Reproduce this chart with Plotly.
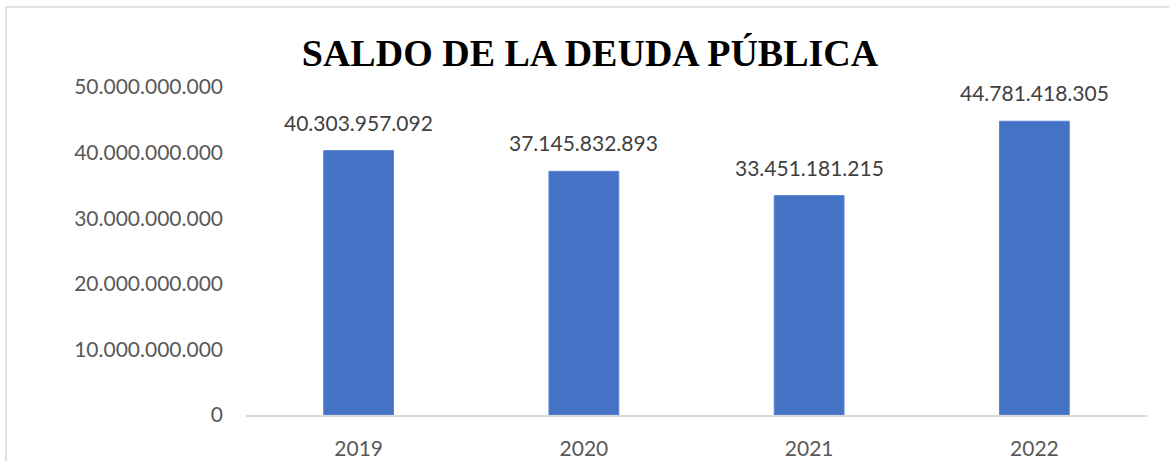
import plotly.graph_objects as go

years = ["2019", "2020", "2021", "2022"]
saldo = [40303957092, 37145832893, 33451181215, 44781418305]
y_ticks = [0, 10000000000, 20000000000, 30000000000, 40000000000, 50000000000]

W, H = 1169, 461
L, R, T, B = 246, 22, 87, 46
pw, ph = W - L - R, H - T - B

fig = go.Figure()
fig.add_trace(go.Bar(
    x=years, y=saldo, width=0.31,
    marker=dict(color="#4472C4", line=dict(color="#5B86D3", width=1)),
    hoverinfo="x+y",
))

# category index of each year on the category axis
for i, v in enumerate(saldo):
    fig.add_annotation(
        x=i, y=v, text=f"{v:,}".replace(",", "."),
        showarrow=False, yanchor="bottom", yshift=14,
        font=dict(family="Lato", size=21, color="#404040"),
    )

def px_to_paper_x(p):
    return (p - L) / pw

def px_to_paper_y(p):
    return (H - B - p) / ph

fig.add_shape(
    type="rect", xref="paper", yref="paper",
    x0=px_to_paper_x(6), x1=px_to_paper_x(1200),
    y0=px_to_paper_y(500), y1=px_to_paper_y(7),
    line=dict(color="#D9D9D9", width=1.5), fillcolor="rgba(0,0,0,0)", layer="below",
)

fig.update_layout(
    width=W, height=H,
    margin=dict(l=L, r=R, t=T, b=B, pad=0, autoexpand=False),
    paper_bgcolor="white", plot_bgcolor="white",
    separators=",.",
    showlegend=False,
    title=dict(
        text="<b>SALDO DE LA DEUDA PÚBLICA</b>",
        x=590 / W, xanchor="center",
        y=1 - 53 / H, yanchor="middle",
        font=dict(family="Liberation Serif", size=38, color="#000000"),
    ),
)

fig.update_xaxes(
    type="category", categoryarray=years, range=[-0.5, 3.5],
    showgrid=False, showline=True, linecolor="#D9D9D9", linewidth=1.5,
    ticks="", ticklabelstandoff=14,
    tickfont=dict(family="Lato", size=21, color="#595959"),
)
fig.update_yaxes(
    range=[0, 50000000000], tickvals=y_ticks, tickformat=",d",
    showgrid=False, zeroline=False, showline=False, ticks="",
    ticklabelstandoff=22,
    tickfont=dict(family="Lato", size=21, color="#595959"),
)

fig.write_html(
    "out.html",
    config={"displayModeBar": False},
    post_script="document.body.style.margin='0';document.body.style.overflow='hidden';",
)
